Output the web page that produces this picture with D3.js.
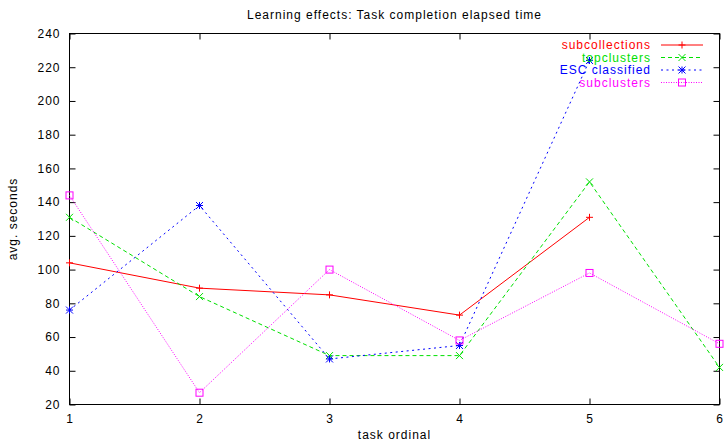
<!DOCTYPE html>
<html>
<head>
<meta charset="utf-8">
<script src="https://cdn.jsdelivr.net/npm/d3@7"></script>
<style>
  html, body { margin: 0; padding: 0; background: #fff; }
  svg { display: block; }
  text { font-family: "Liberation Sans", Arial, Helvetica, sans-serif; font-size: 12px; letter-spacing: 1px; }
</style>
</head>
<body>
<svg id="chart" width="725" height="443"></svg>
<script>
// Task ordinals on the x axis
const tasks = [1, 2, 3, 4, 5, 6];

// Average elapsed seconds per task (null = no measurement)
const subcollections = [104, 89, 85, 73, 131, null];
const topclusters    = [131, 84, 49, 49, 152, 42];
const escClassified  = [76, 138, 47, 55, 224, null];
const subclusters    = [144, 27, 100, 58, 98, 56];

const yTicks = [20, 40, 60, 80, 100, 120, 140, 160, 180, 200, 220, 240];

const series = [
  { name: "subcollections", values: subcollections, color: "#ff0000", dash: null,  marker: "plus" },
  { name: "topclusters",    values: topclusters,    color: "#00e000", dash: "4,3", marker: "cross" },
  { name: "ESC classified", values: escClassified,  color: "#0000ff", dash: "2,3.5", marker: "star" },
  { name: "subclusters",    values: subclusters,    color: "#ff00ff", dash: "1,1.5", marker: "square" }
];

const plotLeft = 69.5, plotRight = 719.5, plotTop = 33.5, plotBottom = 404.5;

const svg = d3.select("#chart");

const x = d3.scaleLinear().domain([1, 6]).range([plotLeft, plotRight]);
const y = d3.scaleLinear().domain([20, 240]).range([plotBottom, plotTop]);

// Frame
svg.append("rect")
  .attr("x", plotLeft).attr("y", plotTop)
  .attr("width", plotRight - plotLeft).attr("height", plotBottom - plotTop)
  .attr("fill", "none").attr("stroke", "#000").attr("stroke-width", 1);

// Axes with inward ticks, mirrored on the opposite sides
const axisStyle = g => {
  g.select(".domain").remove();
  g.selectAll(".tick line").attr("stroke", "#000");
  g.selectAll(".tick text").attr("fill", "#000").style("font-size", "12px");
};

svg.append("g").attr("transform", `translate(${plotLeft},0)`)
  .call(d3.axisLeft(y).tickValues(yTicks).tickSize(-6).tickPadding(9))
  .call(axisStyle);
svg.append("g").attr("transform", `translate(${plotRight},0)`)
  .call(d3.axisRight(y).tickValues(yTicks).tickSize(-6).tickFormat(""))
  .call(axisStyle);
svg.append("g").attr("transform", `translate(0,${plotBottom})`)
  .call(d3.axisBottom(x).tickValues(tasks).tickSize(-6).tickPadding(10).tickFormat(d3.format("d")))
  .call(axisStyle);
svg.append("g").attr("transform", `translate(0,${plotTop})`)
  .call(d3.axisTop(x).tickValues(tasks).tickSize(-6).tickFormat(""))
  .call(axisStyle);

// Markers
function drawMarker(g, type, cx, cy, color) {
  const s = 3.5;
  if (type === "plus" || type === "star") {
    g.append("path").attr("d", `M${cx - s},${cy}H${cx + s}M${cx},${cy - s}V${cy + s}`)
      .attr("stroke", color).attr("fill", "none");
  }
  if (type === "cross" || type === "star") {
    g.append("path").attr("d", `M${cx - s},${cy - s}L${cx + s},${cy + s}M${cx - s},${cy + s}L${cx + s},${cy - s}`)
      .attr("stroke", color).attr("fill", "none");
  }
  if (type === "square") {
    g.append("rect").attr("x", cx - 3.5).attr("y", cy - 3.5).attr("width", 7).attr("height", 7)
      .attr("stroke", color).attr("fill", "none");
  }
}

const line = d3.line()
  .defined(d => d.v !== null)
  .x(d => x(d.t))
  .y(d => y(d.v));

series.forEach(s => {
  const pts = tasks.map((t, i) => ({ t, v: s.values[i] }));
  const g = svg.append("g");
  g.append("path")
    .datum(pts)
    .attr("d", line)
    .attr("fill", "none")
    .attr("stroke", s.color)
    .attr("stroke-width", 1)
    .attr("stroke-dasharray", s.dash);
  pts.filter(p => p.v !== null).forEach(p => drawMarker(g, s.marker, x(p.t), y(p.v), s.color));
});

// Legend
const legend = svg.append("g");
series.forEach((s, i) => {
  const ly = 45 + i * 12.5;
  legend.append("text")
    .attr("x", 651).attr("y", ly).attr("dy", "0.35em")
    .attr("text-anchor", "end").attr("fill", s.color)
    .text(s.name);
  legend.append("line")
    .attr("x1", 661).attr("x2", 703).attr("y1", ly).attr("y2", ly)
    .attr("stroke", s.color).attr("stroke-dasharray", s.dash);
  drawMarker(legend, s.marker, 682, ly, s.color);
});

// Titles
svg.append("text")
  .attr("x", 394.5).attr("y", 19)
  .attr("text-anchor", "middle").attr("fill", "#000")
  .text("Learning effects: Task completion elapsed time");

svg.append("text")
  .attr("x", 394.5).attr("y", 439)
  .attr("text-anchor", "middle").attr("fill", "#000")
  .text("task ordinal");

svg.append("text")
  .attr("transform", "translate(17,219) rotate(-90)")
  .attr("text-anchor", "middle").attr("fill", "#000")
  .text("avg. seconds");
</script>
</body>
</html>
